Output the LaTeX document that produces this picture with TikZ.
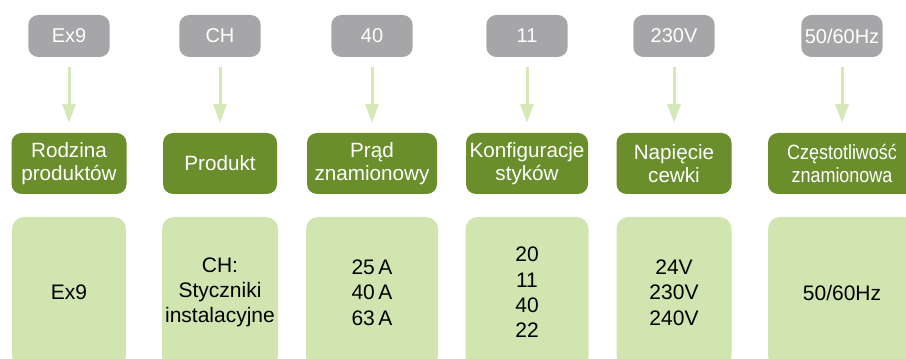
\documentclass[tikz,border=0pt]{standalone}
\usepackage{fontspec}
\usepackage{graphicx}
\setmainfont{Liberation Sans}
\usetikzlibrary{arrows.meta}
\definecolor{keygray}{RGB}{166,166,168}
\definecolor{namegreen}{RGB}{106,142,44}
\definecolor{valgreen}{RGB}{208,229,176}
\definecolor{arrowgreen}{RGB}{212,232,184}
\tikzset{
  keybox/.style={fill=keygray, text=white, rounded corners=7.5pt, inner sep=0pt,
    minimum width=61pt, minimum height=31.5pt, font=\fontsize{15}{18}\selectfont},
  namebox/.style={fill=namegreen, text=white, rounded corners=7.5pt, inner sep=0pt,
    minimum height=45.75pt, align=center, font=\fontsize{15.5}{17}\selectfont},
  valbox/.style={fill=valgreen, text=black, rounded corners=9pt, inner sep=0pt,
    minimum height=113.25pt, align=center, font=\fontsize{15.75}{19}\selectfont},
  arr/.style={draw=arrowgreen, line width=2.25pt, -{Triangle[length=14pt,width=9.75pt]},
    shorten <=7.5pt, shorten >=7.5pt}
}
\begin{document}
\begin{tikzpicture}[x=0.75pt, y=-0.75pt]
  \def\ky{36} \def\gy{163.5} \def\vy{292.5} % wiersze
  \useasboundingbox (0,0) rectangle (906,359);
  \clip (0,0) rectangle (906,359);
  % kod
  \node[keybox] (k1) at (69,\ky) {Ex9};
  \node[keybox] (k2) at (220,\ky) {CH};
  \node[keybox] (k3) at (372,\ky) {40};
  \node[keybox] (k4) at (527,\ky) {11};
  \node[keybox] (k5) at (674,\ky) {230V};
  \node[keybox] (k6) at (842,\ky) {50/60Hz};
  % opis
  \node[namebox, minimum width=86.25pt] (g1) at (69,\gy) {Rodzina\\produktów};
  \node[namebox, minimum width=85.5pt] (g2) at (220,\gy) {Produkt};
  \node[namebox, minimum width=97.5pt] (g3) at (372,\gy) {Prąd\\znamionowy};
  \node[namebox, minimum width=91.5pt] (g4) at (527,\gy) {Konfiguracje\\styków};
  \node[namebox, minimum width=86.25pt] (g5) at (674,\gy) {Napięcie\\cewki};
  \node[namebox, minimum width=111pt] (g6) at (842,\gy)
    {\scalebox{0.87}[1]{Częstotliwość}\\\scalebox{0.87}[1]{znamionowa}};
  % wartości
  \node[valbox, minimum width=85.5pt] (v1) at (69,\vy) {Ex9};
  \node[valbox, minimum width=87pt] (v2) at (220,\vy) {CH:\\Styczniki\\instalacyjne};
  \node[valbox, minimum width=99pt] (v3) at (372,\vy) {25\,A\\40\,A\\63\,A};
  \node[valbox, minimum width=92.25pt] (v4) at (527,\vy) {20\\11\\40\\22};
  \node[valbox, minimum width=86.25pt] (v5) at (674,\vy) {24V\\230V\\240V};
  \node[valbox, minimum width=111pt] (v6) at (842,\vy) {50/60Hz};
  \foreach \i in {1,...,6} \draw[arr] (k\i) -- (g\i);
\end{tikzpicture}
\end{document}
